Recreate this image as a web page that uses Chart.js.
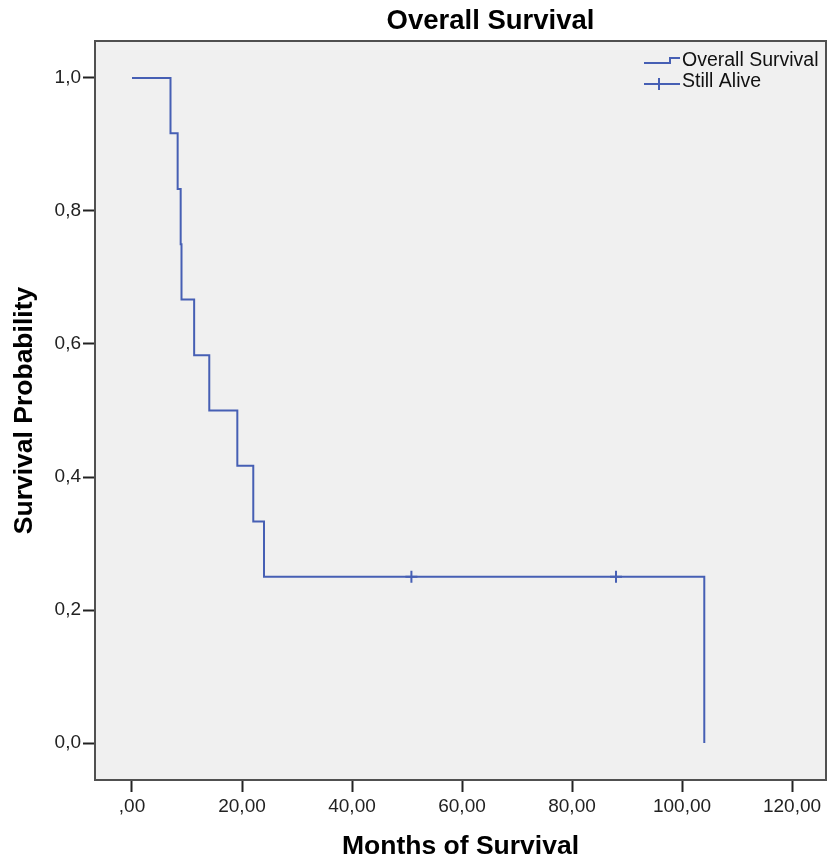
<!DOCTYPE html>
<html>
<head>
<meta charset="utf-8">
<script src="https://cdn.jsdelivr.net/npm/chart.js@4"></script>
<style>
  html, body { margin: 0; padding: 0; background: #fff; }
  #wrap { width: 827px; height: 865px; }
</style>
</head>
<body>
<div id="wrap"><canvas id="kmChart" width="827" height="865"></canvas></div>
<script>
// ── Data ──
const eventMonths   = [0, 7.0, 8.3, 8.85, 9.0, 11.3, 14.05, 19.15, 22.05, 24.0, 104.05];
const survivalProb  = [1.0, 0.917, 0.833, 0.75, 0.667, 0.583, 0.5, 0.417, 0.333, 0.25, 0.0];
const censorMonths  = [50.8, 88.0];
const censorProb    = [0.25, 0.25];
const xTickValues   = [0, 20, 40, 60, 80, 100, 120];
const yTickValues   = [0, 0.2, 0.4, 0.6, 0.8, 1.0];

const LINE   = 'rgb(70, 95, 180)';
const FONT   = "'Liberation Sans', Arial, sans-serif";
const PLOTBG = '#f0f0f0';

// ── Plot background + frame ──
const plotFrame = {
  id: 'plotFrame',
  beforeDraw(chart) {
    const { ctx, chartArea: a } = chart;
    ctx.save();
    ctx.fillStyle = '#fff';
    ctx.fillRect(0, 0, chart.width, chart.height);
    ctx.fillStyle = PLOTBG;
    ctx.fillRect(a.left, a.top, a.right - a.left, a.bottom - a.top);
    ctx.restore();
  },
  afterDraw(chart) {
    const { ctx, chartArea: a } = chart;
    ctx.save();
    ctx.strokeStyle = '#505050';
    ctx.lineWidth = 2;
    ctx.strokeRect(a.left, a.top, a.right - a.left, a.bottom - a.top);
    ctx.restore();
  },
  afterLayout(chart) {
    // SPSS puts the title a bit right of the plot centre
    chart.titleBlock.left += 30;
    chart.titleBlock.right += 30;
  }
};

// ── Legend drawn inside the plot (step glyph / censor cross) ──
const kmLegend = {
  id: 'kmLegend',
  afterDraw(chart) {
    const { ctx, chartArea: a } = chart;
    const x0 = a.right - 182, x1 = a.right - 146;
    ctx.save();
    ctx.strokeStyle = LINE;
    ctx.lineWidth = 2;
    ctx.font = '19.5px ' + FONT;
    ctx.fillStyle = '#111';
    ctx.textBaseline = 'middle';
    chart.data.datasets.forEach((ds, i) => {
      const y = a.top + 21 + i * 21;
      ctx.beginPath();
      if (i === 0) {
        ctx.moveTo(x0, y + 1);
        ctx.lineTo(x0 + 26, y + 1);
        ctx.lineTo(x0 + 26, y - 4);
        ctx.lineTo(x1, y - 4);
      } else {
        ctx.moveTo(x0, y + 1);
        ctx.lineTo(x1, y + 1);
        ctx.moveTo(x0 + 15, y - 5);
        ctx.lineTo(x0 + 15, y + 7);
      }
      ctx.stroke();
      ctx.fillText(ds.label, x1 + 2, y - 1);
    });
    ctx.restore();
  }
};

const tickGrid = {
  display: true,
  drawOnChartArea: false,
  drawTicks: true,
  tickLength: 12,
  tickWidth: 2,
  tickColor: '#222'
};

function noLabelPadding(s) {
  s.paddingLeft = 0;
  s.paddingRight = 0;
  s.paddingTop = 0;
  s.paddingBottom = 0;
}

new Chart(document.getElementById('kmChart'), {
  type: 'line',
  data: {
    datasets: [
      {
        label: 'Overall Survival',
        data: eventMonths.map((m, i) => ({ x: m, y: survivalProb[i] })),
        borderColor: LINE,
        borderWidth: 2,
        stepped: 'before',
        pointRadius: 0,
        fill: false,
      },
      {
        label: 'Still Alive',
        type: 'scatter',
        data: censorMonths.map((m, i) => ({ x: m, y: censorProb[i] })),
        borderColor: LINE,
        backgroundColor: LINE,
        pointStyle: 'cross',
        pointRadius: 6,
        pointBorderWidth: 2,
        showLine: false,
      }
    ]
  },
  options: {
    responsive: false,
    animation: false,
    layout: { autoPadding: false, padding: { left: 0, right: 1, top: 0, bottom: 0 } },
    plugins: {
      legend: { display: false },
      tooltip: { enabled: false },
      title: {
        display: true,
        text: 'Overall Survival',
        fullSize: false,
        color: '#000',
        font: { family: FONT, size: 27.5, weight: 'bold' },
        padding: { top: 5, bottom: 3 }
      }
    },
    scales: {
      x: {
        type: 'linear',
        min: -6.727,
        max: 126.18,
        afterFit: s => { s.height = 85; noLabelPadding(s); },
        afterBuildTicks: s => { s.ticks = xTickValues.map(v => ({ value: v })); },
        border: { display: false },
        grid: tickGrid,
        ticks: {
          autoSkip: false,
          maxRotation: 0,
          padding: 3,
          color: '#222',
          font: { family: FONT, size: 19 },
          callback: v => v === 0 ? ',00' : v.toFixed(2).replace('.', ',')
        },
        title: {
          display: true,
          text: 'Months of Survival',
          color: '#000',
          font: { family: FONT, size: 26.5, weight: 'bold' },
          padding: { top: 0, bottom: 2.3 }
        }
      },
      y: {
        type: 'linear',
        min: -0.0556,
        max: 1.0556,
        afterFit: s => { s.width = 95; noLabelPadding(s); },
        afterBuildTicks: s => { s.ticks = yTickValues.map(v => ({ value: v })); },
        border: { display: false },
        grid: tickGrid,
        ticks: {
          autoSkip: false,
          padding: 2,
          color: '#222',
          font: { family: FONT, size: 19 },
          callback: v => v.toFixed(1).replace('.', ',')
        },
        title: {
          display: true,
          text: 'Survival Probability',
          color: '#000',
          font: { family: FONT, size: 26.5, weight: 'bold' },
          padding: { top: 9, bottom: 0 }
        }
      }
    }
  },
  plugins: [plotFrame, kmLegend]
});
</script>
</body>
</html>
